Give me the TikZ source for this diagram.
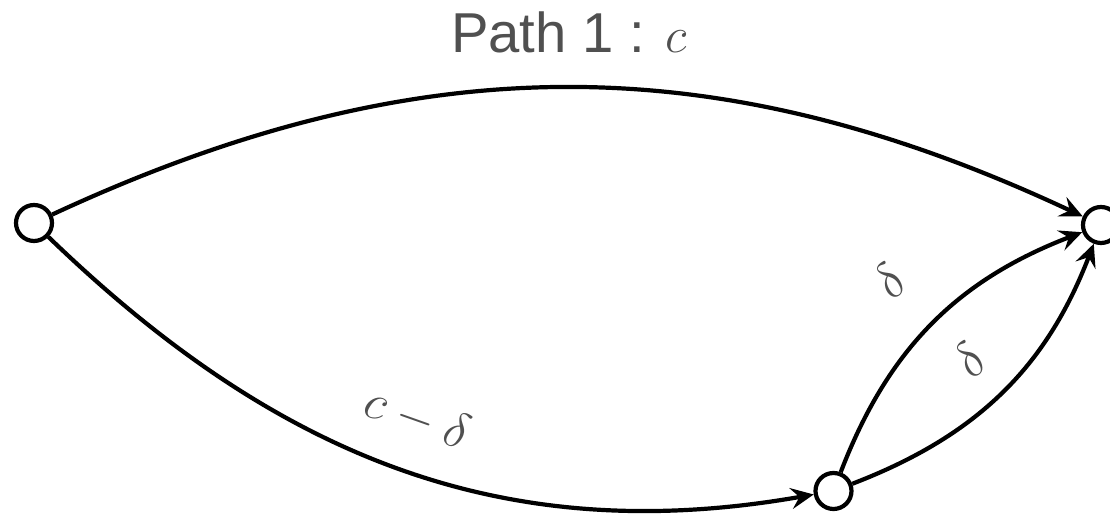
\documentclass[tikz,border=0pt]{standalone}
\usepackage{fontspec}
\setsansfont{Liberation Sans}
\usetikzlibrary{positioning, arrows.meta}
\definecolor{labelgray}{RGB}{80,80,80}

\begin{document}
\begin{tikzpicture}[
  >={Stealth[length=6.5pt, width=6pt, inset=2.4pt]},
  vert/.style={draw, circle, line width=0.042cm, minimum size=0.36cm,
               inner sep=0pt, fill=white},
  link/.style={->, line width=0.042cm},
  lbl/.style={sloped, above, text=labelgray, font=\fontsize{14.4}{17}\selectfont},
]
\useasboundingbox (0,0) rectangle (11.10,5.14);

% Vertices
\node[vert] (s) at (0.34, 2.91) {};
\node[vert] (t) at (11.01, 2.89) {};
\node[vert] (v) at (8.335, 0.23) {};

% Title
\node[anchor=base, text=labelgray, font=\sffamily\fontsize{16}{19}\selectfont]
  (title) at (5.69, 4.61) {Path 1 : {\fontsize{14.4}{17}\selectfont$c$}};

% Path 1
\draw[link] (s) to[bend left=25] (t);

% Path 2
\draw[link] (s) to[out=-44, in=190]
  node[lbl, pos=0.5, inner sep=0.32cm] {$c-\delta$} (v);
\draw[link] (v) to[out=69, in=201]
  node[lbl, pos=0.5, inner sep=0.41cm] {$\delta$} (t);
\draw[link] (v) to[out=21, in=249]
  node[lbl, pos=0.5, inner sep=0.26cm] {$\delta$} (t);

\end{tikzpicture}
\end{document}
